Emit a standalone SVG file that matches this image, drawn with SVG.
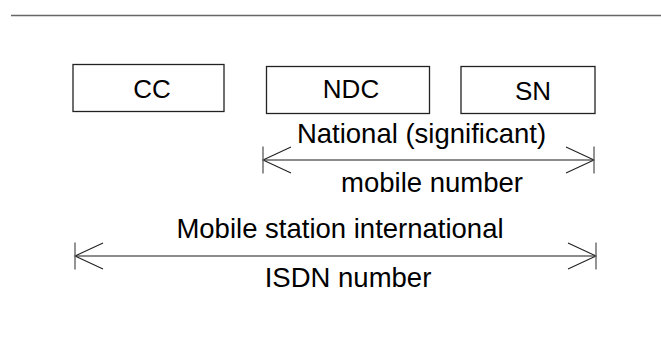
<svg xmlns="http://www.w3.org/2000/svg" width="661" height="364" viewBox="0 0 661 364">
<style>
.box{fill:#fff;stroke:#222;stroke-width:1.3}
.t{font-family:"Liberation Sans",Arial,sans-serif;font-size:26px;fill:#000;text-anchor:middle}
.lbl{font-family:"Liberation Sans",Arial,sans-serif;font-size:27.5px;fill:#000;text-anchor:middle}
.conn{stroke:#666;stroke-width:1.4;fill:none}
</style>
<defs>
<marker id="dim" viewBox="-30 -15 32 30" refX="0" refY="0" markerWidth="32" markerHeight="30" markerUnits="userSpaceOnUse" orient="auto-start-reverse">
<path d="M-28,-13 L0,0 L-28,13" fill="none" stroke="#222" stroke-width="1.1"/>
<path d="M0,-13.5 L0,13.5" fill="none" stroke="#666" stroke-width="1.4"/>
</marker>
</defs>
<line x1="11" y1="15.5" x2="661" y2="15.5" stroke="#666" stroke-width="1.5"/>
<g id="cc">
<rect class="box" x="73" y="64.5" width="151" height="47"/>
<text class="t" x="152" y="98">CC</text>
</g>
<g id="ndc">
<rect class="box" x="266.5" y="66.5" width="163" height="47"/>
<text class="t" x="351" y="98">NDC</text>
</g>
<g id="sn">
<rect class="box" x="461" y="66.5" width="134" height="47"/>
<text class="t" x="533" y="100">SN</text>
</g>
<g id="connectors">
<line class="conn" x1="263" y1="160" x2="594" y2="160" marker-start="url(#dim)" marker-end="url(#dim)"/>
<line class="conn" x1="75" y1="256" x2="596" y2="256" marker-start="url(#dim)" marker-end="url(#dim)"/>
</g>
<g id="labels">
<text class="lbl" x="421.5" y="143">National (significant)</text>
<text class="lbl" x="432" y="191.5">mobile number</text>
<text class="lbl" x="340" y="238">Mobile station international</text>
<text class="lbl" x="348" y="286.5">ISDN number</text>
</g>
</svg>
